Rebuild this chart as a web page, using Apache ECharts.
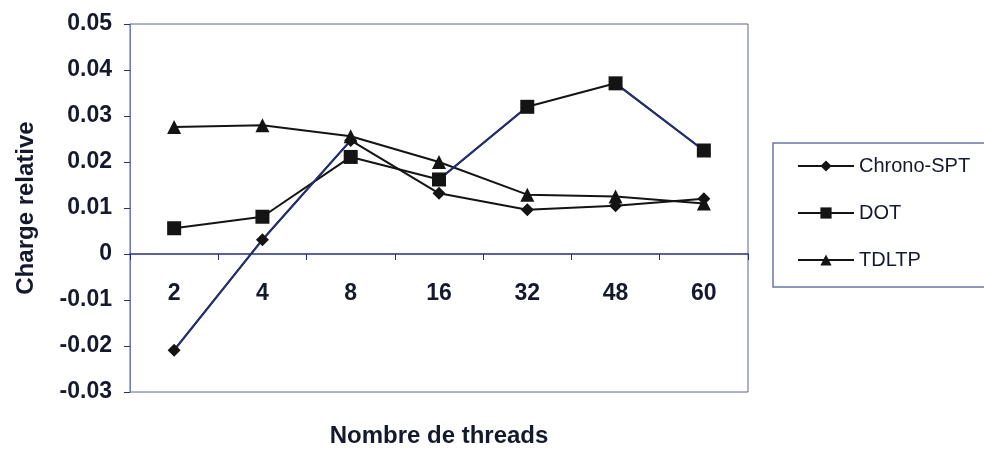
<!DOCTYPE html>
<html>
<head>
<meta charset="utf-8">
<script src="https://cdn.jsdelivr.net/npm/echarts@6/dist/echarts.min.js"></script>
<style>
html,body{margin:0;padding:0;background:#fff;}
#c{width:984px;height:449px;}
</style>
</head>
<body>
<div id="c"></div>
<script>
const categories = ['2', '4', '8', '16', '32', '48', '60'];
const chronoSPT = [-0.0209, 0.0031, 0.0247, 0.0132, 0.0096, 0.0105, 0.0120];
const dot = [0.0056, 0.0081, 0.0211, 0.0162, 0.0320, 0.0371, 0.0225];
const tdltp = [0.0276, 0.0280, 0.0256, 0.0200, 0.0129, 0.0125, 0.0110];
const yTicks = { min: -0.03, max: 0.05, step: 0.01 };

const textColor = '#15192c';
const navy = '#26307a';
const lineBlack = '#141414';
const font = 'Liberation Sans, Arial, sans-serif';

const gridBox = { left: 130, right: 236, top: 24, bottom: 57 };
const plotH = 449 - gridBox.top - gridBox.bottom;
// place the category axis on the zero line (distance of 0 above the bottom edge)
const zeroOffset = -plotH * (0 - yTicks.min) / (yTicks.max - yTicks.min);

const chart = echarts.init(document.getElementById('c'), null, { renderer: 'canvas' });

function mkSeries(name, data, symbol, size) {
  return {
    name: name,
    type: 'line',
    data: data,
    symbol: symbol,
    symbolSize: size,
    showSymbol: true,
    lineStyle: { color: lineBlack, width: 2 },
    itemStyle: { color: lineBlack, borderWidth: 0 },
    z: 2
  };
}
// navy-tinted segments as they appear in the scan (same values, subset)
function segment(name, data, from, to) {
  return {
    name: name + ' seg' + from,
    type: 'line',
    data: data.map((v, i) => (i >= from && i <= to ? v : null)),
    symbol: 'none',
    connectNulls: false,
    lineStyle: { color: navy, width: 1.8 },
    itemStyle: { color: navy },
    silent: true,
    z: 2
  };
}

const option = {
  backgroundColor: '#ffffff',
  animation: false,
  grid: Object.assign({}, gridBox, {
    outerBoundsMode: 'none', containLabel: false,
    show: true, borderColor: '#5d6394', borderWidth: 1, backgroundColor: 'transparent'
  }),
  legend: {
    orient: 'vertical',
    left: 773, top: 143,
    padding: [13, 40, 17, 24],
    itemWidth: 56, itemHeight: 14, itemGap: 27,
    borderColor: '#6a75a8', borderWidth: 1.5,
    textStyle: { fontFamily: font, fontSize: 20, color: textColor },
    data: ['Chrono-SPT', 'DOT', 'TDLTP']
  },
  xAxis: {
    type: 'category',
    data: categories,
    boundaryGap: true,
    position: 'bottom',
    offset: zeroOffset,
    axisLine: { onZero: false, lineStyle: { color: navy, width: 1.5 } },
    axisTick: { show: true, inside: false, length: 6, lineStyle: { color: navy } },
    axisLabel: { margin: 28, fontFamily: font, fontSize: 23, fontWeight: 'bold', color: textColor },
    name: 'Nombre de threads',
    nameLocation: 'middle',
    nameGap: 170,
    nameTextStyle: { fontFamily: font, fontSize: 24, fontWeight: 'bold', color: textColor },
    splitLine: { show: false }
  },
  yAxis: {
    type: 'value',
    min: yTicks.min, max: yTicks.max, interval: yTicks.step,
    axisLine: { show: true, lineStyle: { color: '#6d7bbf', width: 1 } },
    axisTick: { show: true, inside: false, length: 6, lineStyle: { color: navy } },
    axisLabel: {
      margin: 18, fontFamily: font, fontSize: 23, fontWeight: 'bold', color: textColor,
      formatter: v => String(Number(v.toFixed(2)))
    },
    splitLine: { show: false },
    name: 'Charge relative',
    nameLocation: 'middle',
    nameGap: 92,
    nameRotate: 90,
    nameTextStyle: { fontFamily: font, fontSize: 24, fontWeight: 'bold', color: textColor }
  },
  series: [
    mkSeries('Chrono-SPT', chronoSPT, 'diamond', 13),
    mkSeries('DOT', dot, 'rect', 14),
    mkSeries('TDLTP', tdltp, 'triangle', 14),
    segment('Chrono-SPT', chronoSPT, 0, 2),
    segment('DOT', dot, 3, 4),
    segment('DOT', dot, 5, 6)
  ]
};
chart.setOption(option);
</script>
</body>
</html>
